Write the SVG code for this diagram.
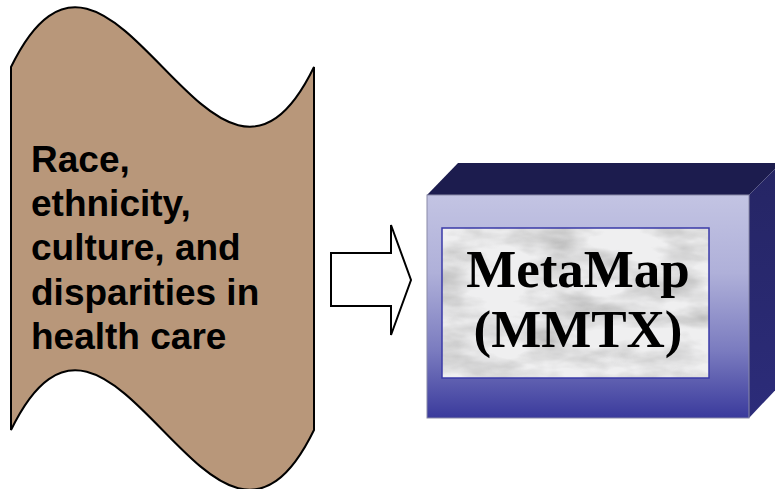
<svg xmlns="http://www.w3.org/2000/svg" width="775" height="489" viewBox="0 0 775 489">
  <style>
    .lbl { font-family: "Liberation Sans", Arial, sans-serif; font-weight: bold; font-size: 37px; fill: #000; }
    .mm { font-family: "Liberation Serif", "Times New Roman", serif; font-weight: bold; font-size: 53px; fill: #000; text-anchor: middle; }
    .arrow { fill: #fff; stroke: #000; stroke-width: 2; stroke-linejoin: miter; }
  </style>
  <defs>
    <linearGradient id="frontGrad" x1="0" y1="0" x2="0" y2="1">
      <stop offset="0" stop-color="#c3c4e3"/>
      <stop offset="0.35" stop-color="#afb0d9"/>
      <stop offset="0.7" stop-color="#7a7bbf"/>
      <stop offset="1" stop-color="#3a3a9c"/>
    </linearGradient>
    <linearGradient id="sideGrad" x1="0" y1="0" x2="0" y2="1">
      <stop offset="0" stop-color="#252564"/>
      <stop offset="1" stop-color="#2c2c7a"/>
    </linearGradient>
    <filter id="marble" x="0" y="0" width="1" height="1">
      <feTurbulence type="fractalNoise" baseFrequency="0.015 0.04" numOctaves="4" seed="3" result="n"/>
      <feColorMatrix in="n" type="matrix" values="0 0 0 0 0.5  0 0 0 0 0.5  0 0 0 0 0.5  2 0 0 0 -0.75"/>
      <feComposite in2="SourceGraphic" operator="in"/>
    </filter>
  </defs>

  <g id="node-source">
    <path d="M11,67 C112,-140 213,274 314,67 L314,430 C213,637 112,223 11,430 Z" fill="#b8977a" stroke="#000" stroke-width="2"/>
    <text class="lbl" x="31" y="172">Race,</text>
    <text class="lbl" x="31" y="216">ethnicity,</text>
    <text class="lbl" x="31" y="260">culture, and</text>
    <text class="lbl" x="31" y="305">disparities in</text>
    <text class="lbl" x="31" y="349">health care</text>
  </g>

  <g id="connectors">
    <polygon class="arrow" points="331,253 391,253 391,225 411,280 391,335 391,306 331,306"/>
  </g>

  <g id="node-metamap">
    <polygon points="427,195 458,163 781,163 749,195" fill="#1c1c4e"/>
    <polygon points="749,195 781,163 781,384 749,418" fill="url(#sideGrad)"/>
    <rect x="427" y="195" width="322" height="223" fill="url(#frontGrad)" stroke="#8a8aa8" stroke-width="1"/>
    <rect x="442" y="228" width="267" height="150" fill="#efeff0"/>
    <rect x="442" y="228" width="267" height="150" fill="#fff" filter="url(#marble)"/>
    <rect x="442" y="228" width="267" height="150" fill="none" stroke="#3a3aa8" stroke-width="1.5"/>
    <text class="mm" x="578" y="287">MetaMap</text>
    <text class="mm" x="578" y="347">(MMTX)</text>
  </g>
</svg>
